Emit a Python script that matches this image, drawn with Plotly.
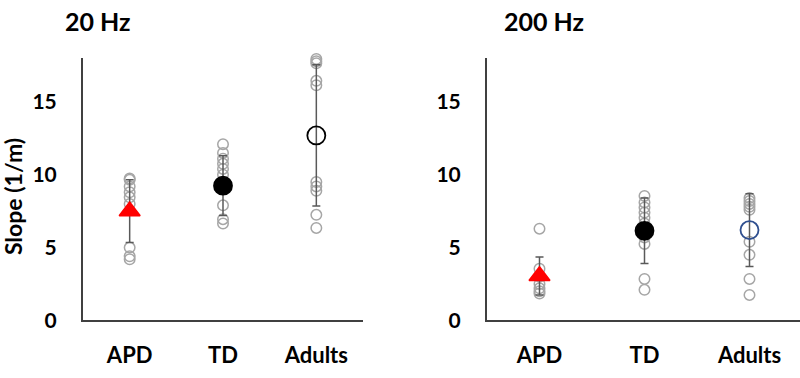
import plotly.graph_objects as go

groups = ["APD", "TD", "Adults"]

# 20 Hz panel
hz20_apd = [9.75, 9.65, 9.2, 8.8, 8.45, 8.0, 5.0, 4.4, 4.2]
hz20_td = [12.1, 11.5, 11.1, 10.75, 10.4, 10.0, 7.9, 6.95, 6.65]
hz20_adults = [17.95, 17.8, 17.65, 16.45, 16.15, 9.5, 9.2, 8.9, 7.25, 6.35]
hz20_means = [7.5, 9.25, 12.7]
hz20_sd = [2.15, 2.05, 4.85]

# 200 Hz panel
hz200_apd = [6.3, 3.55, 3.0, 2.5, 2.2, 2.0, 1.85]
hz200_td = [8.55, 8.1, 7.75, 7.4, 7.05, 6.65, 5.7, 5.25, 2.85, 2.1]
hz200_adults = [8.4, 8.2, 8.0, 7.8, 7.6, 5.4, 4.5, 2.85, 1.75]
hz200_means = [3.05, 6.15, 6.2]
hz200_sd = [1.3, 2.25, 2.5]

y_ticks = [0, 5, 10, 15]

W, H = 800, 378
FONT = "Lato"
GRAY = "#A6A6A6"
ERR = "#595959"

fig = go.Figure()

def add_panel(points, means, sds, xa, ya, mean_colors, mean_symbols, mean_lines):
    for g, vals in zip(groups, points):
        fig.add_trace(go.Scatter(
            x=[g] * len(vals), y=vals, mode="markers", xaxis=xa, yaxis=ya, cliponaxis=False,
            marker=dict(symbol="circle-open", size=10.5, color=GRAY, line=dict(width=1.5, color=GRAY)),
            showlegend=False, hoverinfo="skip"))
    for i, g in enumerate(groups):
        fig.add_trace(go.Scatter(
            x=[g], y=[means[i]], mode="markers", xaxis=xa, yaxis=ya, cliponaxis=False,
            error_y=dict(type="data", array=[sds[i]], visible=True, color=ERR, thickness=1.5, width=4),
            marker=dict(symbol=mean_symbols[i], size=18, color=mean_colors[i],
                        line=dict(width=1.8, color=mean_lines[i])),
            showlegend=False))

add_panel([hz20_apd, hz20_td, hz20_adults], hz20_means, hz20_sd, "x", "y",
          ["red", "black", "rgba(0,0,0,0)"], ["triangle-up", "circle", "circle"],
          ["red", "black", "black"])
add_panel([hz200_apd, hz200_td, hz200_adults], hz200_means, hz200_sd, "x2", "y2",
          ["red", "black", "rgba(0,0,0,0)"], ["triangle-up", "circle", "circle"],
          ["red", "black", "#2F4F8F"])

ydom = [(H - 330) / H, (H - 60) / H]
xcommon = dict(type="category", categoryorder="array", categoryarray=groups,
               showline=True, linecolor="#404040", linewidth=2, showgrid=False,
               zeroline=False, ticks="", ticklabelstandoff=14,
               tickfont=dict(family=FONT, size=22, color="black", weight="bold"))
ycommon = dict(range=[0, 18], tickvals=y_ticks, showline=True, linecolor="#404040",
               linewidth=2, showgrid=False, zeroline=False, ticks="", ticklabelstandoff=20,
               tickfont=dict(family=FONT, size=21, color="black", weight="bold"))

fig.update_layout(
    width=W, height=H, margin=dict(l=0, r=0, t=0, b=0),
    plot_bgcolor="white", paper_bgcolor="white",
    xaxis=dict(domain=[83 / W, 363 / W], range=[-0.5, 2.5], anchor="y", **xcommon),
    yaxis=dict(domain=ydom, anchor="x", **ycommon),
    xaxis2=dict(domain=[487 / W, 1.0], range=[-0.5, -0.5 + 313 / 105], anchor="y2", **xcommon),
    yaxis2=dict(domain=ydom, anchor="x2", **ycommon),
    annotations=[
        dict(text="20 Hz", x=63 / W, y=1 - 22 / H, xref="paper", yref="paper",
             xanchor="left", yanchor="middle", showarrow=False,
             font=dict(family=FONT, size=25, color="black", weight="bold")),
        dict(text="200 Hz", x=502 / W, y=1 - 22 / H, xref="paper", yref="paper",
             xanchor="left", yanchor="middle", showarrow=False,
             font=dict(family=FONT, size=25, color="black", weight="bold")),
        dict(text="Slope (1/m)", x=13 / W, y=1 - 203 / H, xref="paper", yref="paper",
             xanchor="center", yanchor="middle", showarrow=False, textangle=-90,
             font=dict(family=FONT, size=23, color="black", weight="bold")),
    ],
)

fig.write_html("out.html")
